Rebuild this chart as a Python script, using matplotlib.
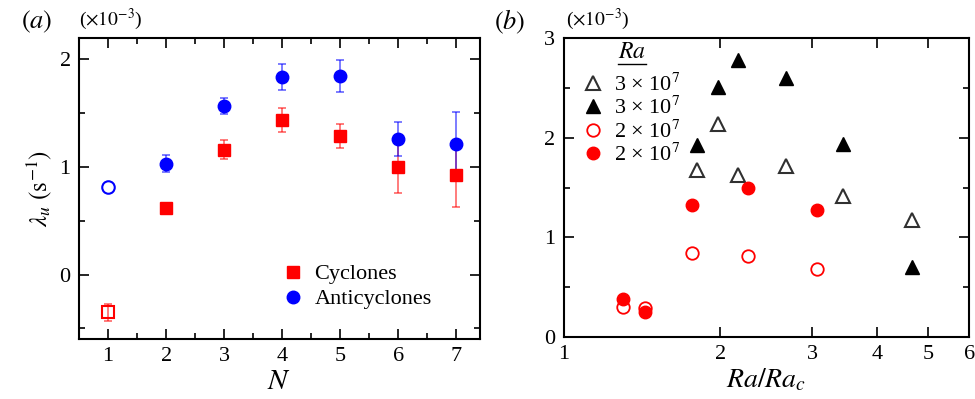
import numpy as np
import matplotlib
matplotlib.use("Agg")
import matplotlib.pyplot as plt
from matplotlib.lines import Line2D
from matplotlib.ticker import FixedLocator, FixedFormatter, NullFormatter, MultipleLocator

plt.rcParams['font.family'] = ['Liberation Serif', 'DejaVu Serif']
plt.rcParams['mathtext.fontset'] = 'stix'

# panel (a): lambda_u vs N (x1e-3)
N = [1, 2, 3, 4, 5, 6, 7]
cyc = [-0.35, 0.62, 1.16, 1.44, 1.29, 1.00, 0.93]
cyc_err = [0.08, 0.03, 0.09, 0.11, 0.11, 0.245, 0.30]
anti = [0.81, 1.03, 1.57, 1.84, 1.845, 1.26, 1.21]
anti_err = [0.0, 0.08, 0.075, 0.12, 0.15, 0.16, 0.30]

# panel (b): lambda vs Ra/Ra_c (x1e-3)
tri_x = [1.80, 1.975, 2.165, 2.675, 3.44, 4.67]
tri_open = [1.675, 2.135, 1.625, 1.715, 1.415, 1.175]
tri_fill = [1.925, 2.51, 2.775, 2.595, 1.94, 0.705]
circ_x = [1.30, 1.43, 1.76, 2.26, 3.07]
circ_open = [0.305, 0.29, 0.84, 0.815, 0.685]
circ_fill = [0.385, 0.25, 1.32, 1.50, 1.275]
ra_labels = ['3 × 10$^{7}$', '3 × 10$^{7}$', '2 × 10$^{7}$', '2 × 10$^{7}$']

fig = plt.figure(figsize=(9.75, 3.99), dpi=100)
ax1 = fig.add_axes([0.081, 0.150, 0.411, 0.755])
ax2 = fig.add_axes([0.578, 0.155, 0.416, 0.750])

red = '#ff0000'
blue = '#0000ff'

# cyclones / anticyclones
for i in range(len(N)):
    ax1.errorbar(N[i], cyc[i], yerr=cyc_err[i], fmt='none', ecolor=red,
                 alpha=0.6, capsize=3, elinewidth=1.2, capthick=1.2)
    if anti_err[i] > 0:
        ax1.errorbar(N[i], anti[i], yerr=anti_err[i], fmt='none', ecolor=blue,
                     alpha=0.6, capsize=3, elinewidth=1.2, capthick=1.2)
ax1.plot(N[1:], cyc[1:], 's', color=red, ms=8, label='Cyclones')
ax1.plot(N[:1], cyc[:1], 's', mfc='none', mec=red, ms=8, mew=1.5)
ax1.plot(N[1:], anti[1:], 'o', color=blue, ms=9, label='Anticyclones')
ax1.plot(N[:1], anti[:1], 'o', mfc='none', mec=blue, ms=9, mew=1.5)

ax1.set_xlim(0.5, 7.4)
ax1.set_ylim(-0.6, 2.2)
ax1.xaxis.set_major_locator(FixedLocator(N))
ax1.xaxis.set_minor_locator(MultipleLocator(0.5))
ax1.yaxis.set_major_locator(FixedLocator([0, 1, 2]))
ax1.yaxis.set_minor_locator(MultipleLocator(0.5))
ax1.set_xlabel(r'$N$', fontsize=21, labelpad=2)
ax1.set_ylabel(r'$\lambda_u\ (\mathrm{s}^{-1})$', fontsize=18, labelpad=4)
ax1.legend(loc='upper left', bbox_to_anchor=(0.51, 0.25), frameon=False,
           fontsize=16, handlelength=0.9, handletextpad=0.5, labelspacing=0.2,
           borderpad=0, borderaxespad=0)
fig.text(0.022, 0.945, r'$(a)$', fontsize=19, va='center')
fig.text(0.081, 0.952, r'($\times 10^{-3}$)', fontsize=14, va='center')

# panel (b)
ax2.plot(tri_x, tri_open, '^', mfc='white', mec='#303030', mew=1.5, ms=10,
         label=ra_labels[0])
ax2.plot(tri_x, tri_fill, '^', color='black', ms=10, label=ra_labels[1])
ax2.plot(circ_x, circ_open, 'o', mfc='white', mec=red, mew=1.3, ms=9,
         label=ra_labels[2])
ax2.plot(circ_x, circ_fill, 'o', color=red, ms=9, label=ra_labels[3])

ax2.set_xscale('log')
ax2.set_xlim(1, 6)
ax2.set_ylim(0, 3)
ax2.xaxis.set_major_locator(FixedLocator([1, 2, 3, 4, 5, 6]))
ax2.xaxis.set_minor_locator(FixedLocator([]))
ax2.xaxis.set_major_formatter(FixedFormatter(['1', '2', '3', '4', '5', '6']))
ax2.xaxis.set_minor_formatter(NullFormatter())
ax2.yaxis.set_major_locator(FixedLocator([0, 1, 2, 3]))
ax2.yaxis.set_minor_locator(MultipleLocator(0.5))
ax2.set_xlabel(r'$Ra/Ra_c$', fontsize=20, labelpad=2)
leg = ax2.legend(loc='upper left', bbox_to_anchor=(0.048, 0.985), frameon=False,
                 fontsize=16, title=r'$Ra$', title_fontsize=17,
                 handlelength=0.9, handletextpad=0.5, labelspacing=0.06,
                 borderpad=0, borderaxespad=0)
leg._legend_box.sep = 7
fig.text(0.507, 0.945, r'$(b)$', fontsize=19, va='center')
fig.text(0.580, 0.952, r'($\times 10^{-3}$)', fontsize=14, va='center')

for ax in (ax1, ax2):
    ax.tick_params(which='both', direction='in', top=True, right=True,
                   labelsize=16, width=1.2, pad=6)
    ax.tick_params(which='major', length=7)
    ax.tick_params(which='minor', length=4)
    for s in ax.spines.values():
        s.set_linewidth(1.5)

# underline the legend title
fig.canvas.draw()
bb = leg.get_title().get_window_extent().transformed(fig.transFigure.inverted())
fig.add_artist(Line2D([bb.x0, bb.x1], [bb.y0 - 0.002, bb.y0 - 0.002],
                      transform=fig.transFigure, color='black', lw=1.0))

fig.savefig('out.png', dpi=100)
